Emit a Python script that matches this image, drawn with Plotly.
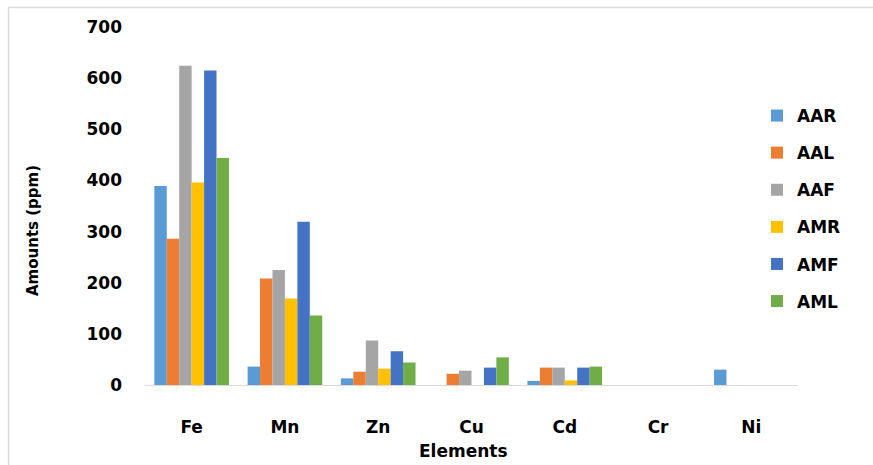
import plotly.graph_objects as go

categories = ["Fe", "Mn", "Zn", "Cu", "Cd", "Cr", "Ni"]
series_names = ["AAR", "AAL", "AAF", "AMR", "AMF", "AML"]
AAR = [389, 36, 13, 0, 8, 0, 30]
AAL = [286, 208, 26, 22, 34, 0, 0]
AAF = [624, 225, 87, 28, 34, 0, 0]
AMR = [396, 169, 32, 0, 9, 0, 0]
AMF = [615, 319, 66, 34, 34, 0, 0]
AML = [444, 136, 44, 54, 36, 0, 0]
y_ticks = [0, 100, 200, 300, 400, 500, 600, 700]

colors = ["#5B9BD5", "#ED7D31", "#A5A5A5", "#FFC000", "#4472C4", "#70AD47"]
series = [AAR, AAL, AAF, AMR, AMF, AML]

FONT = "DejaVu Sans"

fig = go.Figure()
for name, vals, col in zip(series_names, series, colors):
    fig.add_trace(go.Bar(
        x=categories, y=vals, name=name, legendgroup=name,
        marker=dict(color=col, line=dict(width=0)),
    ))

W, H = 873, 465
L, R, T, B = 145, 75, 27, 80
pw, ph = W - L - R, H - T - B

def px(x):
    return (x - L) / pw

def py(y):
    return (H - B - y) / ph

fig.update_layout(
    width=W, height=H,
    margin=dict(l=L, r=R, t=T, b=B),
    paper_bgcolor="white", plot_bgcolor="white",
    barmode="group", bargap=0.2, bargroupgap=0,
    font=dict(family=FONT, size=16, color="black"),
    showlegend=True,
    legend=dict(
        x=px(757), y=py(98), xanchor="left", yanchor="top",
        font=dict(family=FONT, size=17, color="black", weight="bold"),
        tracegroupgap=12, itemwidth=30, bgcolor="rgba(0,0,0,0)",
    ),
    xaxis=dict(
        showgrid=False, showline=True, linecolor="#d9d9d9", linewidth=1,
        ticks="", ticklabelstandoff=27,
        tickfont=dict(family=FONT, size=17, color="black", weight="bold"),
    ),
    yaxis=dict(
        range=[0, 700], tickvals=y_ticks, showgrid=False, showline=False,
        zeroline=False, ticks="", ticklabelstandoff=22,
        tickfont=dict(family=FONT, size=17, color="black", weight="bold"),
    ),
    annotations=[
        dict(text="Elements", xref="paper", yref="paper", x=px(463.5), y=py(451),
             xanchor="center", yanchor="middle", showarrow=False,
             font=dict(family=FONT, size=17, color="black", weight="bold")),
        dict(text="Amounts (ppm)", xref="paper", yref="paper", x=px(33), y=py(231),
             xanchor="center", yanchor="middle", showarrow=False, textangle=-90,
             font=dict(family=FONT, size=15, color="black", weight="bold")),
    ],
    shapes=[
        dict(type="line", xref="paper", yref="paper", x0=px(8), x1=px(873),
             y0=py(7.5), y1=py(7.5), line=dict(color="#d9d9d9", width=1.5)),
        dict(type="line", xref="paper", yref="paper", x0=px(8.5), x1=px(8.5),
             y0=py(7), y1=py(465), line=dict(color="#d9d9d9", width=1.5)),
    ],
)

fig.write_html("out.html", config={"displayModeBar": False},
               post_script="document.body.style.margin='0px';")
